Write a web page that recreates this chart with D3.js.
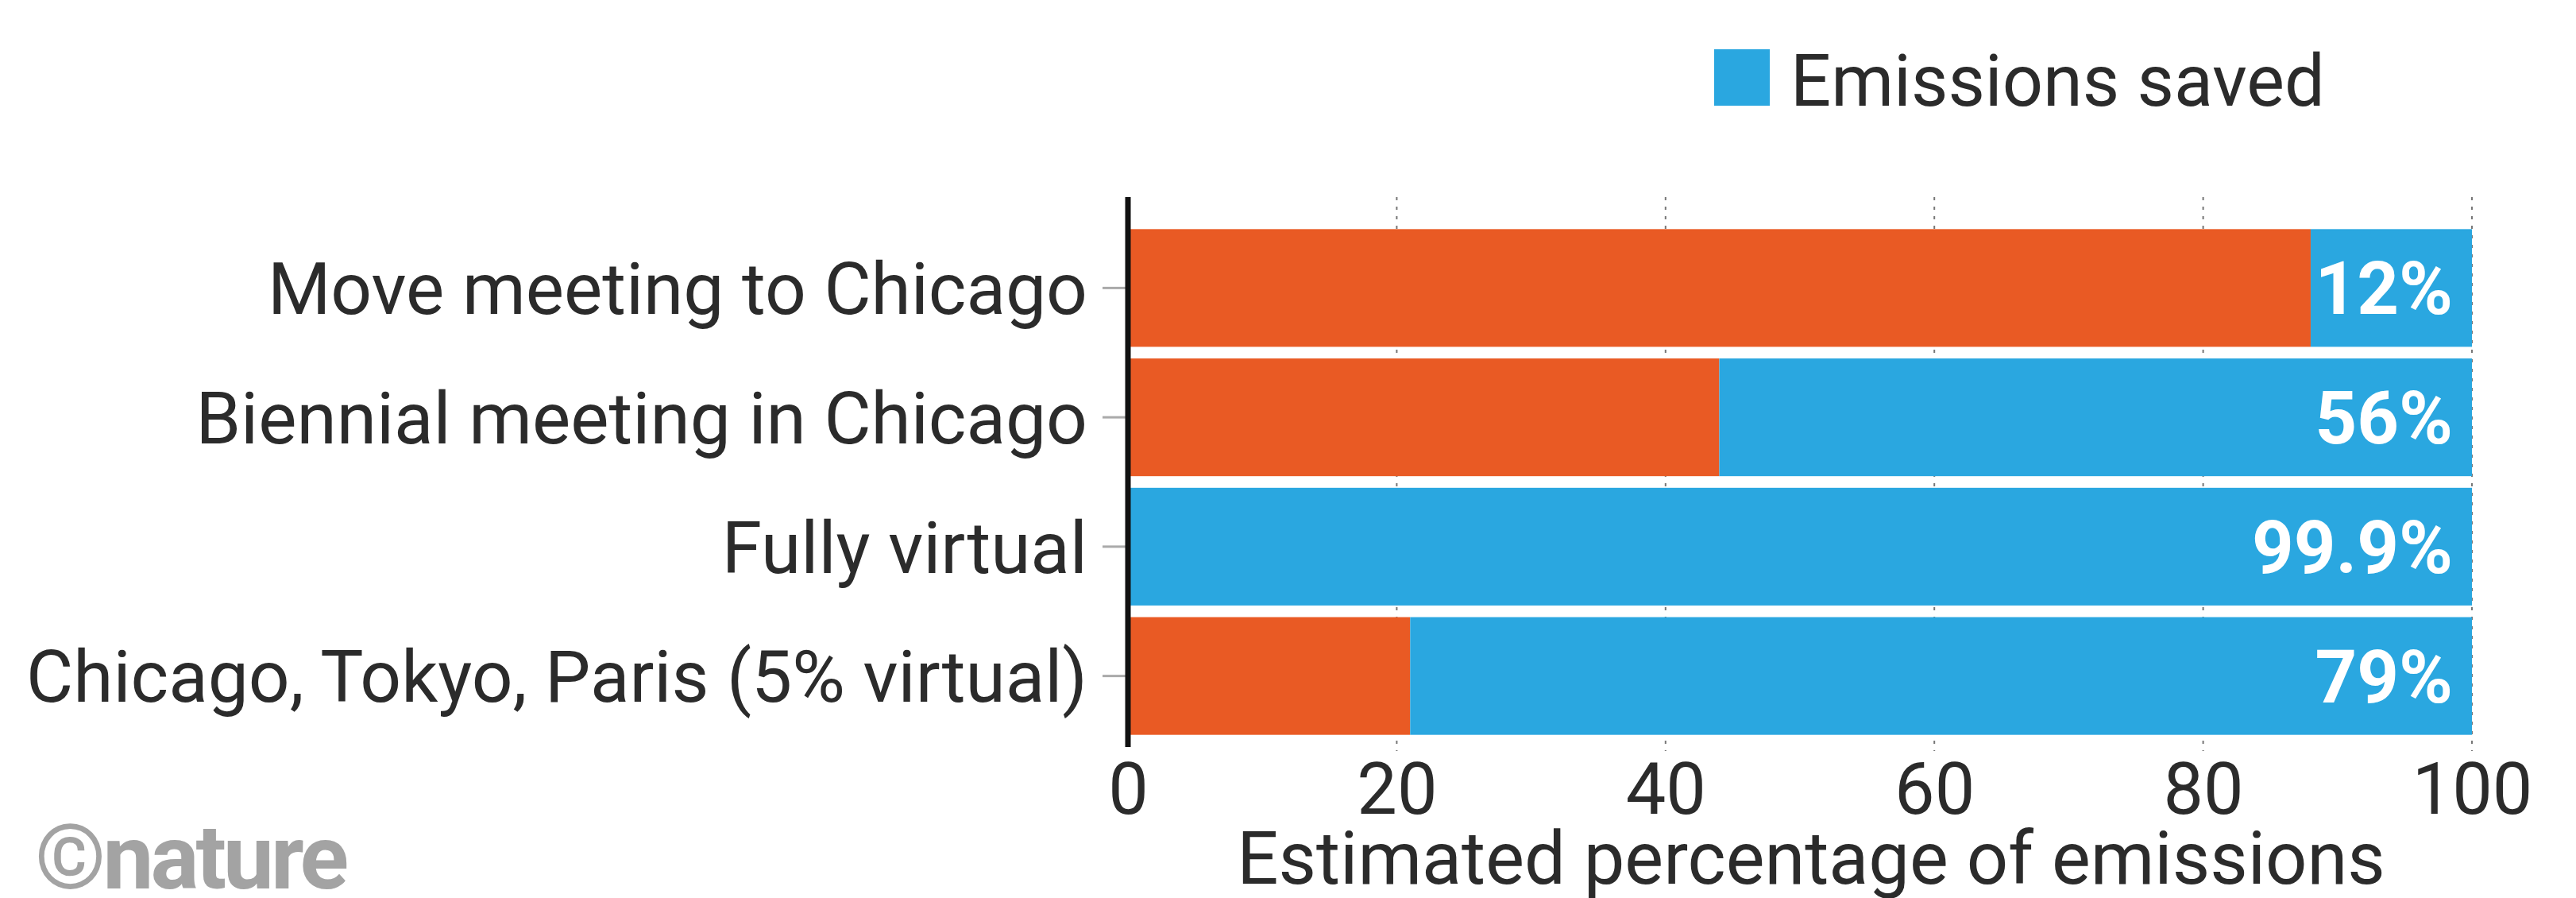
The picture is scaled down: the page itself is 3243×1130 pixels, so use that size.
<!DOCTYPE html>
<html>
<head>
<meta charset="utf-8">
<script src="https://cdn.jsdelivr.net/npm/d3@7"></script>
<style>
  html, body { margin: 0; padding: 0; background: #fff; }
  svg { display: block; }
  text { font-family: Roboto, "Liberation Sans", Arial, sans-serif; }
</style>
</head>
<body>
<div id="chart"></div>
<script>
const categories = [
  "Move meeting to Chicago",
  "Biennial meeting in Chicago",
  "Fully virtual",
  "Chicago, Tokyo, Paris (5% virtual)"
];
const savedValues = [12, 56, 99.9, 79];
const savedLabels = ["12%", "56%", "99.9%", "79%"];
const xTicks = [0, 20, 40, 60, 80, 100];
const legendLabel = "Emissions saved";
const xTitle = "Estimated percentage of emissions";

const width = 3243, height = 1130;
const orange = "#e95a24", blue = "#2aa7e0";
const font = "Roboto, 'Liberation Sans', Arial, sans-serif";

const rows = categories.map((c, i) => ({ cat: c, saved: savedValues[i], label: savedLabels[i] }));

const svg = d3.select("#chart").append("svg")
  .attr("width", width)
  .attr("height", height);

const x = d3.scaleLinear().domain([0, 100]).range([1420, 3112]);
const y = d3.scaleBand().domain(categories).range([281, 932])
  .paddingInner(0.09).paddingOuter(0.045);

// dotted gridlines (behind bars)
svg.append("g")
  .selectAll("line")
  .data(xTicks.slice(1))
  .join("line")
  .attr("x1", d => x(d)).attr("x2", d => x(d))
  .attr("y1", 248).attr("y2", 945)
  .attr("stroke", "#777")
  .attr("stroke-width", 2)
  .attr("stroke-dasharray", "4,8");

// remaining emissions (orange)
svg.append("g")
  .selectAll("rect")
  .data(rows)
  .join("rect")
  .attr("x", x(0))
  .attr("y", d => y(d.cat))
  .attr("width", d => x(100 - d.saved) - x(0))
  .attr("height", y.bandwidth())
  .attr("fill", orange);

// emissions saved (blue)
svg.append("g")
  .selectAll("rect")
  .data(rows)
  .join("rect")
  .attr("x", d => x(100 - d.saved))
  .attr("y", d => y(d.cat))
  .attr("width", d => x(100) - x(100 - d.saved))
  .attr("height", y.bandwidth())
  .attr("fill", blue);

// value labels
svg.append("g")
  .selectAll("text")
  .data(rows)
  .join("text")
  .attr("x", x(100) - 24)
  .attr("y", d => y(d.cat) + y.bandwidth() / 2)
  .attr("dy", "0.36em")
  .attr("text-anchor", "end")
  .attr("fill", "#fff")
  .attr("font-weight", "bold")
  .attr("font-size", 92)
  .text(d => d.label);

// y axis with category labels
const yAxis = svg.append("g")
  .attr("transform", `translate(${x(0)},0)`)
  .call(d3.axisLeft(y).tickSize(32).tickPadding(19));
yAxis.select(".domain").remove();
yAxis.selectAll(".tick line").attr("stroke", "#aaa").attr("stroke-width", 3);
yAxis.selectAll(".tick text")
  .attr("font-size", 91)
  .attr("fill", "#2b2b2b")
  .attr("dy", "0.36em")
  .style("font-family", font);

// black vertical axis line
svg.append("line")
  .attr("x1", x(0)).attr("x2", x(0))
  .attr("y1", 248).attr("y2", 940)
  .attr("stroke", "#111")
  .attr("stroke-width", 7);

// x axis tick labels
const xAxis = svg.append("g")
  .attr("transform", "translate(0,930)")
  .call(d3.axisBottom(x).tickValues(xTicks).tickSize(0).tickPadding(0));
xAxis.select(".domain").remove();
xAxis.selectAll(".tick text")
  .attr("y", 94)
  .attr("dy", 0)
  .attr("font-size", 90)
  .attr("fill", "#2b2b2b")
  .style("font-family", font);

// x axis title
svg.append("text")
  .attr("x", 2280)
  .attr("y", 1112)
  .attr("text-anchor", "middle")
  .attr("font-size", 92)
  .attr("fill", "#2b2b2b")
  .text(xTitle);

// legend
svg.append("rect")
  .attr("x", 2158).attr("y", 62)
  .attr("width", 70).attr("height", 71)
  .attr("fill", blue);
svg.append("text")
  .attr("x", 2254).attr("y", 133)
  .attr("font-size", 90)
  .attr("fill", "#2b2b2b")
  .text(legendLabel);

// credit
svg.append("text")
  .attr("x", 44).attr("y", 1118)
  .attr("font-size", 114)
  .attr("font-weight", "bold")
  .attr("letter-spacing", -4)
  .attr("fill", "#a3a3a3")
  .text("\u00a9nature");
</script>
</body>
</html>
